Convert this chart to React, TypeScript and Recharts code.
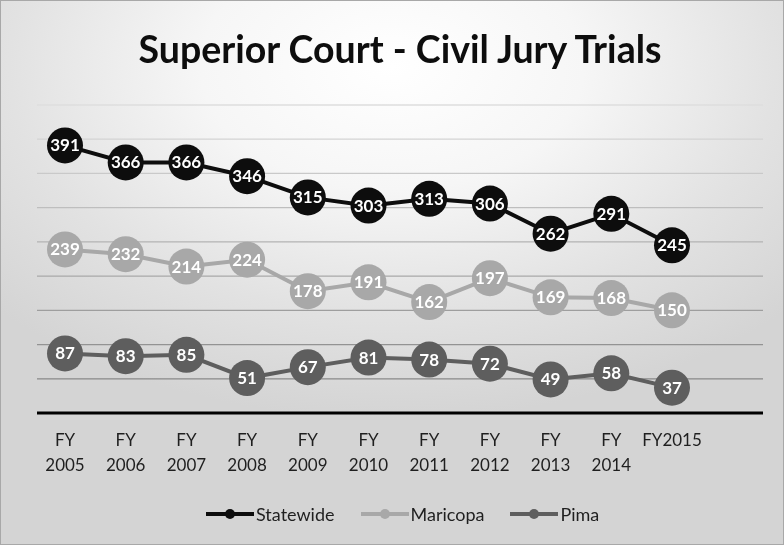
import React from 'react'
import { LineChart, Line, XAxis, YAxis, CartesianGrid } from 'recharts'

// values
const years = ['FY 2005', 'FY 2006', 'FY 2007', 'FY 2008', 'FY 2009', 'FY 2010', 'FY 2011', 'FY 2012', 'FY 2013', 'FY 2014', 'FY2015']
const statewide = [391, 366, 366, 346, 315, 303, 313, 306, 262, 291, 245]
const maricopa = [239, 232, 214, 224, 178, 191, 162, 197, 169, 168, 150]
const pima = [87, 83, 85, 51, 67, 81, 78, 72, 49, 58, 37]
const yTicks = [0, 50, 100, 150, 200, 250, 300, 350, 400, 450]

const series = [
  { key: 'Statewide', color: '#0d0d0d' },
  { key: 'Maricopa', color: '#a8a8a8' },
  { key: 'Pima', color: '#5e5e5e' },
]

const data = years.map((name, i) => ({
  name,
  Statewide: statewide[i],
  Maricopa: maricopa[i],
  Pima: pima[i],
}))

const FONT = 'Lato, "Open Sans", sans-serif'
const PLOT_TOP = 105
const PLOT_BOTTOM = 413
const XAXIS_H = 30

function makeDot(color: string) {
  return (props: any) => {
    const { cx, cy, value, index } = props
    if (cx == null || cy == null || value == null) return <g key={`d-${index}`} />
    return (
      <g key={`d-${index}`}>
        <circle cx={cx} cy={cy} r={18} fill={color} />
        <text
          x={cx}
          y={cy}
          dy={6}
          textAnchor="middle"
          fill="#fff"
          fontSize={17}
          fontWeight="bold"
          fontFamily={FONT}
        >
          {value}
        </text>
      </g>
    )
  }
}

// gridlines fade out toward the bright top of the chart, like the original
function GridLine(props: any) {
  const { x1, x2, y1, y2, index } = props
  const t = Math.max(0, Math.min(1, (y1 - PLOT_TOP) / (PLOT_BOTTOM - PLOT_TOP)))
  const g = Math.round(222 - t * 96)
  return <line key={`g-${index}`} x1={x1} x2={x2} y1={y1} y2={y2} stroke={`rgb(${g},${g},${g})`} strokeWidth={1.3} />
}

function YearTick(props: any) {
  const { x, y, payload } = props
  const label: string = payload.value || ''
  const parts = label.split(' ')
  return (
    <g>
      {parts.map((p, i) => (
        <text
          key={i}
          x={x}
          y={y + 25 + i * 25}
          textAnchor="middle"
          fill="#1f1f1f"
          fontSize={17}
          fontFamily={FONT}
        >
          {p}
        </text>
      ))}
    </g>
  )
}

function LegendBox() {
  return (
    <div
      style={{
        position: 'absolute',
        top: 502,
        left: 205,
        display: 'flex',
        gap: 26,
        fontFamily: FONT,
        fontSize: 18,
        color: '#1f1f1f',
      }}
    >
      {series.map((s) => (
        <div key={s.key} style={{ display: 'flex', alignItems: 'center' }}>
          <svg width={48} height={12}>
            <line x1={0} y1={6} x2={48} y2={6} stroke={s.color} strokeWidth={4} />
            <circle cx={24} cy={6} r={5} fill={s.color} />
          </svg>
          <span style={{ marginLeft: 2 }}>{s.key}</span>
        </div>
      ))}
    </div>
  )
}

export default function App() {
  return (
    <div
      style={{
        position: 'fixed',
        top: 0,
        left: 0,
        width: 784,
        height: 545,
        boxSizing: 'border-box',
        border: '1px solid #a8a8a8',
        background:
          'radial-gradient(ellipse 70% 65% at 50% 12%, #ffffff 0%, #f6f6f6 35%, #e2e2e2 70%, #d4d4d4 100%)',
      }}
    >
      <div
        style={{
          position: 'absolute',
          top: 25,
          left: 8,
          width: '100%',
          textAlign: 'center',
          fontFamily: FONT,
          fontWeight: 'bold',
          fontSize: 37.5,
          color: '#0d0d0d',
        }}
      >
        Superior Court - Civil Jury Trials
      </div>
      <div style={{ position: 'absolute', top: -1, left: -1 }}>
        <LineChart
          width={784}
          height={545}
          data={data}
          margin={{ top: PLOT_TOP, right: 21, bottom: 545 - PLOT_BOTTOM - XAXIS_H, left: 37 }}
        >
          <CartesianGrid vertical={false} horizontal={GridLine} />
          <YAxis hide domain={[0, 450]} ticks={yTicks} />
          <XAxis
            dataKey="name"
            interval={0}
            height={XAXIS_H}
            tickLine={false}
            padding={{ left: 28, right: 91 }}
            axisLine={{ stroke: '#000', strokeWidth: 3 }}
            tick={<YearTick />}
          />
          {series.map((s) => (
            <Line
              key={s.key}
              dataKey={s.key}
              stroke={s.color}
              strokeWidth={4}
              dot={makeDot(s.color)}
              activeDot={false}
              isAnimationActive={false}
            />
          ))}
        </LineChart>
      </div>
      <LegendBox />
    </div>
  )
}
